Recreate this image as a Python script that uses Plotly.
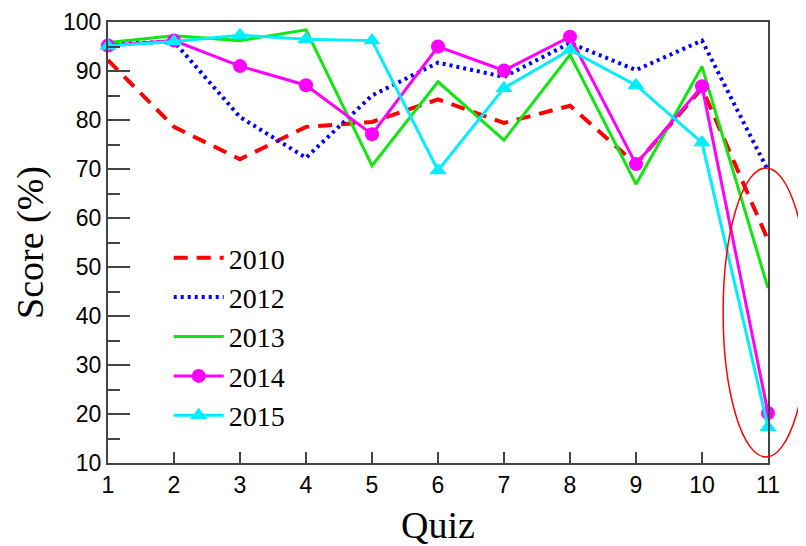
import plotly.graph_objects as go

quiz = [1, 2, 3, 4, 5, 6, 7, 8, 9, 10, 11]
years = ["2010", "2012", "2013", "2014", "2015"]
s2010 = [92.2, 78.6, 72.0, 78.6, 79.6, 84.2, 79.4, 82.9, 71.0, 86.5, 55.5]
s2012 = [95.5, 96.0, 80.6, 72.3, 85.0, 91.7, 88.8, 95.7, 90.2, 96.2, 69.7]
s2013 = [95.8, 97.2, 96.2, 98.4, 70.7, 87.8, 75.9, 93.3, 66.9, 90.9, 45.7]
s2014 = [95.2, 96.2, 91.0, 87.1, 77.1, 95.0, 90.1, 97.0, 71.0, 86.9, 20.2]
s2015 = [95.1, 96.0, 97.3, 96.5, 96.2, 69.7, 86.5, 94.3, 87.1, 75.4, 17.3]
yticks = [10, 20, 30, 40, 50, 60, 70, 80, 90, 100]

series = [s2010, s2012, s2013, s2014, s2015]
styles = [
    dict(mode="lines", line=dict(color="#ff0000", width=4, dash="14px,9px")),
    dict(mode="lines", line=dict(color="#0000ff", width=4, dash="3px,4px")),
    dict(mode="lines", line=dict(color="#11e611", width=3)),
    dict(mode="lines+markers", line=dict(color="#ff00ff", width=3),
         marker=dict(symbol="circle", size=14, color="#ff00ff")),
    dict(mode="lines+markers", line=dict(color="#00eeff", width=3),
         marker=dict(symbol="triangle-up", size=15, color="#00eeff")),
]

fig = go.Figure()
for name, vals, st in zip(years, series, styles):
    fig.add_trace(go.Scatter(x=quiz, y=vals, name=name, cliponaxis=False,
                             legendgroup=name, **st))

fig.add_shape(type="circle", xref="paper", yref="paper",
              x0=0.932, x1=1.062, y0=0.0136, y1=0.669,
              line=dict(color="#ff0000", width=1.5), layer="above")

axis_font = dict(family="Liberation Sans, Arial, sans-serif", size=23, color="#000")
title_font = dict(family="Liberation Serif, Times New Roman, serif", size=38, color="#000")

fig.update_layout(
    width=798, height=538,
    margin=dict(l=100, r=38, t=14, b=83, autoexpand=False),
    paper_bgcolor="white", plot_bgcolor="white",
    showlegend=True,
    legend=dict(x=0.092, y=0.5215, xanchor="left", yanchor="top",
                font=dict(family="Liberation Serif, Times New Roman, serif", size=28, color="#000"),
                itemwidth=50, bgcolor="rgba(0,0,0,0)", tracegroupgap=0,
                traceorder="normal"),
    xaxis=dict(range=[1, 11], tickvals=quiz, ticks="inside", ticklen=11,
               tickwidth=1.5, tickcolor="#444", showline=True, linecolor="#444",
               linewidth=2, mirror=True, showgrid=False, zeroline=False,
               automargin=False,
               tickfont=axis_font, title=dict(text="Quiz", font=title_font, standoff=18)),
    yaxis=dict(range=[10, 100], tickvals=yticks, ticks="inside", ticklen=22,
               tickwidth=1.5, tickcolor="#444", showline=True, linecolor="#444",
               linewidth=2, mirror=True, showgrid=False, zeroline=False,
               automargin=False,
               tickfont=axis_font,
               minor=dict(dtick=5, tick0=0, ticks="inside", ticklen=12,
                          tickwidth=1.5, tickcolor="#444", showgrid=False),
               title=dict(text="Score (%)", font=title_font, standoff=8)),
)

fig.write_html("out.html")
